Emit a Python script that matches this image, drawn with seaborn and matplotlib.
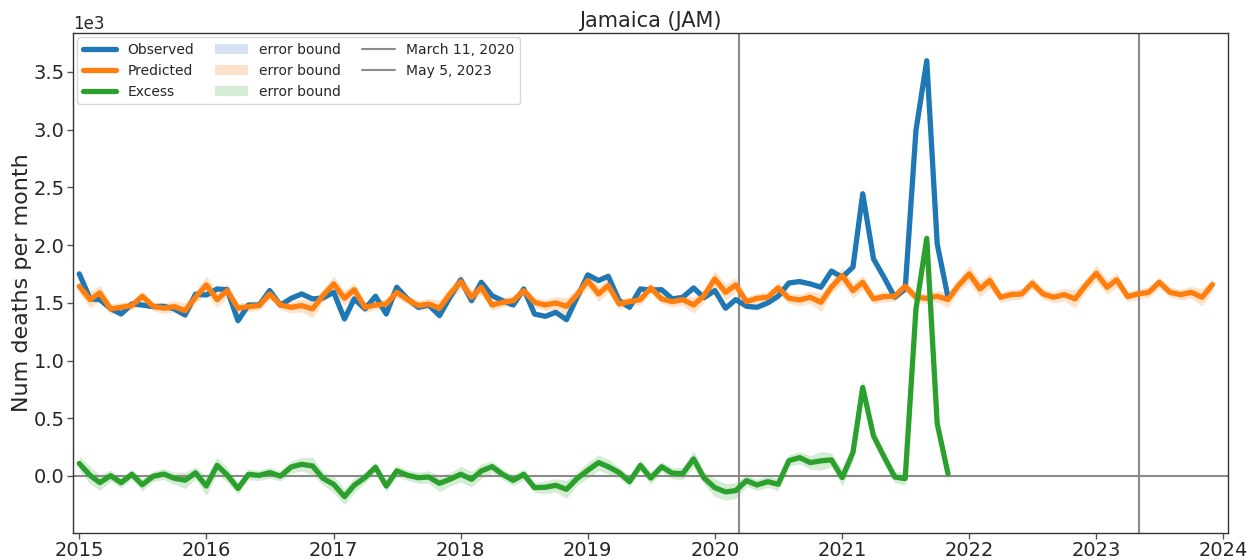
import numpy as np
import pandas as pd
import matplotlib
matplotlib.use("Agg")
import matplotlib.pyplot as plt
import seaborn as sns
from matplotlib.lines import Line2D
from matplotlib.patches import Patch

# ---------------- data (monthly, starting Jan 2015) ----------------
observed = [
    1751, 1534, 1528, 1450, 1403, 1490, 1481, 1467, 1470, 1447, 1395, 1575,
    1568, 1620, 1614, 1345, 1481, 1481, 1606, 1480, 1539, 1577, 1534, 1542,
    1591, 1360, 1534, 1447, 1557, 1403, 1635, 1534, 1461, 1481, 1389, 1548,
    1699, 1519, 1678, 1562, 1519, 1481, 1620, 1403, 1383, 1418, 1354, 1545,
    1742, 1693, 1730, 1520, 1461, 1620, 1611, 1614, 1534, 1548, 1629, 1545,
    1606, 1453, 1528, 1470, 1461, 1499, 1557, 1672, 1684, 1664, 1635, 1775,
    1722, 1810, 2445, 1881, 1722, 1548, 1620, 2995, 3597, 2011, 1548,
]
observed_err = [
    20, 18, 18, 18, 18, 18, 18, 18, 18, 18, 18, 18,
    18, 18, 18, 20, 18, 18, 18, 18, 18, 18, 18, 18,
    18, 20, 18, 18, 18, 18, 18, 18, 18, 18, 18, 18,
    18, 18, 18, 18, 18, 18, 18, 18, 18, 18, 20, 18,
    20, 18, 20, 18, 18, 18, 18, 18, 18, 18, 18, 18,
    18, 18, 18, 18, 18, 18, 18, 20, 20, 20, 20, 22,
    22, 24, 32, 26, 22, 18, 20, 36, 42, 28, 18,
]
predicted = [
    1643, 1528, 1586, 1447, 1461, 1476, 1557, 1470, 1453, 1467, 1432, 1548,
    1655, 1528, 1606, 1453, 1467, 1476, 1577, 1481, 1461, 1476, 1447, 1562,
    1664, 1539, 1614, 1461, 1481, 1490, 1591, 1528, 1476, 1490, 1453, 1577,
    1684, 1548, 1635, 1481, 1504, 1519, 1606, 1504, 1481, 1499, 1470, 1568,
    1693, 1577, 1650, 1490, 1510, 1528, 1629, 1534, 1510, 1528, 1481, 1562,
    1707, 1591, 1655, 1510, 1539, 1548, 1629, 1539, 1525, 1548, 1504, 1635,
    1736, 1606, 1678, 1534, 1554, 1557, 1643, 1548, 1539, 1557, 1528, 1650,
    1751, 1620, 1693, 1548, 1571, 1577, 1670, 1577, 1548, 1571, 1534, 1649,
    1756, 1635, 1699, 1554, 1577, 1591, 1678, 1591, 1571, 1591, 1548, 1658,
]
predicted_err = [
    60, 75, 65, 45, 40, 40, 50, 40, 45, 50, 70, 50,
    80, 70, 60, 45, 45, 40, 45, 40, 50, 55, 75, 55,
    70, 65, 60, 45, 40, 45, 45, 40, 45, 50, 70, 55,
    65, 65, 60, 45, 40, 45, 45, 40, 50, 55, 75, 55,
    65, 65, 60, 45, 40, 45, 50, 40, 45, 50, 70, 55,
    75, 70, 65, 45, 45, 45, 50, 45, 50, 55, 80, 55,
    70, 65, 60, 45, 45, 45, 50, 45, 45, 50, 70, 55,
    75, 70, 65, 45, 45, 45, 50, 45, 50, 55, 80, 55,
    70, 65, 60, 45, 45, 45, 50, 45, 45, 50, 75, 55,
]
event_labels = ["March 11, 2020", "May 5, 2023"]
event_dates = ["2020-03-11", "2023-05-05"]
series_labels = ["Observed", "Predicted", "Excess"]
title = "Jamaica (JAM)"
ylabel = "Num deaths per month"

# ---------------- derived frames ----------------
dates_pred = pd.date_range("2015-01-01", periods=len(predicted), freq="MS")
dates_obs = dates_pred[:len(observed)]
obs = np.array(observed, float)
obs_e = np.array(observed_err, float)
pred = np.array(predicted, float)
pred_e = np.array(predicted_err, float)
excess = obs - pred[:len(obs)]
excess_e = np.sqrt(obs_e ** 2 + pred_e[:len(obs)] ** 2)

df_obs = pd.DataFrame({"date": dates_obs, "value": obs})
df_pred = pd.DataFrame({"date": dates_pred, "value": pred})
df_exc = pd.DataFrame({"date": dates_obs, "value": excess})

# ---------------- style ----------------
sns.set_style("ticks")
plt.rcParams["font.family"] = ["DejaVu Sans"]
plt.rcParams["axes.edgecolor"] = "#333333"
plt.rcParams["axes.linewidth"] = 1.0

C_BLUE, C_ORANGE, C_GREEN = "#1f77b4", "#ff7f0e", "#2ca02c"
C_VLINE = "#8a8a8a"
LW = 3.8

fig, ax = plt.subplots(figsize=(12.59, 5.6), dpi=100)
fig.subplots_adjust(left=0.058, right=0.9755, top=0.941, bottom=0.048)

ax.fill_between(dates_obs, obs - obs_e, obs + obs_e, color="#aec7e8", alpha=0.5, lw=0)
ax.fill_between(dates_pred, pred - pred_e, pred + pred_e, color=C_ORANGE, alpha=0.22, lw=0)
ax.fill_between(dates_obs, excess - excess_e, excess + excess_e, color=C_GREEN, alpha=0.2, lw=0)

sns.lineplot(data=df_obs, x="date", y="value", color=C_BLUE, linewidth=LW, ax=ax, legend=False)
sns.lineplot(data=df_pred, x="date", y="value", color=C_ORANGE, linewidth=LW, ax=ax, legend=False)
sns.lineplot(data=df_exc, x="date", y="value", color=C_GREEN, linewidth=LW, ax=ax, legend=False)

ax.axhline(0, color=C_VLINE, lw=1.5, zorder=1)
for d in event_dates:
    ax.axvline(pd.Timestamp(d), color=C_VLINE, lw=1.5, zorder=1)

ax.set_xlim(pd.Timestamp("2014-12-14"), pd.Timestamp("2024-01-15"))
ax.set_ylim(-495, 3837)
ax.ticklabel_format(axis="y", style="sci", scilimits=(3, 3))
ax.yaxis.get_offset_text().set_fontsize(12)
ax.xaxis.set_major_locator(matplotlib.dates.YearLocator())
ax.xaxis.set_major_formatter(matplotlib.dates.DateFormatter("%Y"))
ax.tick_params(axis="both", labelsize=14, length=4, width=1, color="#555555", pad=2)
ax.set_xlabel("")
ax.set_ylabel(ylabel, fontsize=16, labelpad=1)
ax.set_title(title, fontsize=15, pad=4)

handles = [
    Line2D([0], [0], color=C_BLUE, lw=LW),
    Line2D([0], [0], color=C_ORANGE, lw=LW),
    Line2D([0], [0], color=C_GREEN, lw=LW),
    Patch(facecolor="#aec7e8", alpha=0.5, edgecolor="none"),
    Patch(facecolor=C_ORANGE, alpha=0.22, edgecolor="none"),
    Patch(facecolor=C_GREEN, alpha=0.2, edgecolor="none"),
    Line2D([0], [0], color=C_VLINE, lw=1.5),
    Line2D([0], [0], color=C_VLINE, lw=1.5),
]
labels = series_labels + ["error bound"] * 3 + event_labels
ax.legend(handles, labels, ncol=3, loc="upper left", fontsize=10,
          frameon=True, borderaxespad=0.3, handlelength=2.4, columnspacing=1.5,
          labelspacing=0.5)

fig.savefig("out.png", dpi=100)
